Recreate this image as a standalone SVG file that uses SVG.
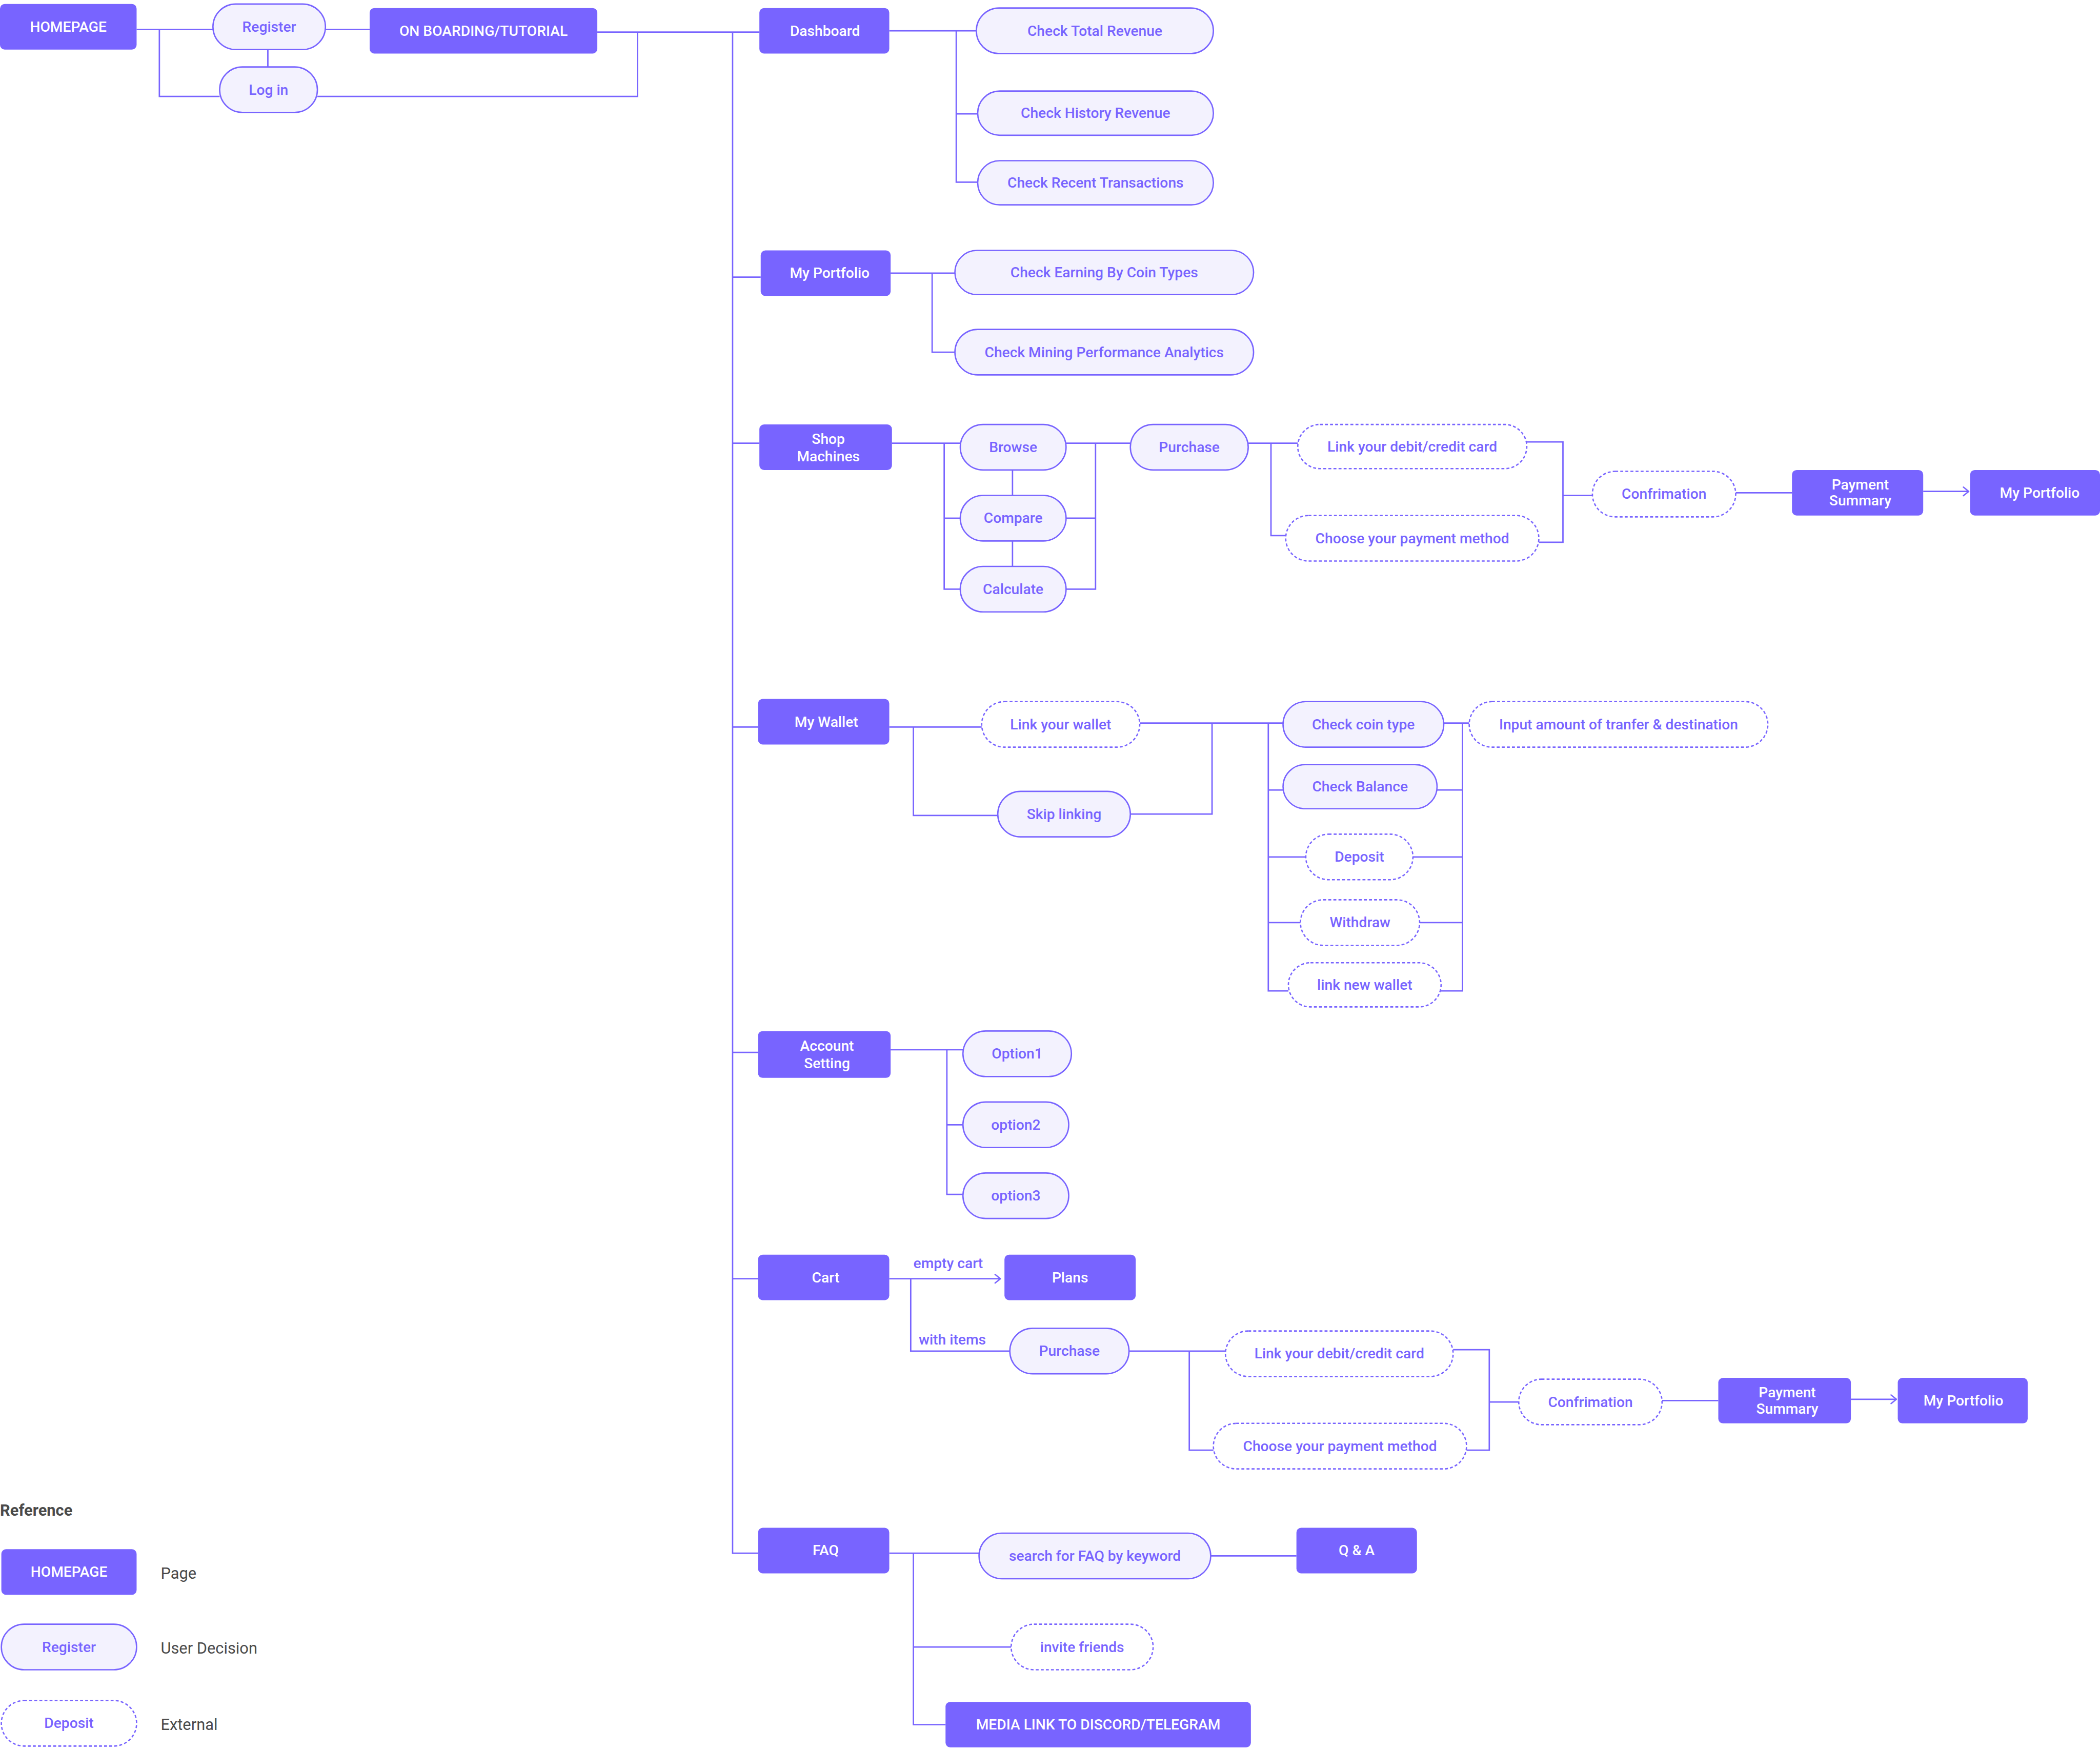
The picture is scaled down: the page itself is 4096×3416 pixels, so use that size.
<svg xmlns="http://www.w3.org/2000/svg" width="4096" height="3416" viewBox="0 0 4096 3416">
<style>
.n text{font-family:Roboto,"Liberation Sans",sans-serif;font-size:10.8px;font-weight:500;text-anchor:middle;dominant-baseline:central}
.pg rect{fill:#7864FF}
.pg text{fill:#FFFFFF}
.dc rect{fill:#F3F2FE;stroke:#7864FF;stroke-width:1}
.dc text,.ex text{fill:#7864FF}
.ex rect{fill:#FFFFFF;stroke:#7864FF;stroke-width:1;stroke-dasharray:2.2 1.6}
#connectors path{fill:none;stroke:#7864FF;stroke-width:1.05}
.lbl{font-family:Roboto,"Liberation Sans",sans-serif;font-size:10.8px;font-weight:500;fill:#7864FF}
.leg{font-family:Roboto,"Liberation Sans",sans-serif;font-size:11.8px;fill:#4A4A4A}
</style>
<defs>
<marker id="arr" markerUnits="userSpaceOnUse" viewBox="0 0 6 8" refX="5" refY="4" markerWidth="6" markerHeight="8" orient="auto">
<path d="M1,0.8 L5,4 L1,7.2" fill="none" stroke="#7864FF" stroke-width="1" stroke-linecap="round" stroke-linejoin="round"/>
</marker>
</defs>
<rect width="4096" height="3416" fill="#FFFFFF"/>
<g transform="scale(2.612245)">
<g id="connectors">
<path d="M102,22 H159"/>
<path d="M119,22 V72 H164"/>
<path d="M200,37 V50"/>
<path d="M243,22 H276"/>
<path d="M237,72 H476 V24"/>
<path d="M446,24 H567"/>
<path d="M547,24 V1160 H566"/>
<path d="M547,207 H568"/>
<path d="M547,331 H567"/>
<path d="M547,543 H566"/>
<path d="M547,786 H566"/>
<path d="M547,955 H566"/>
<path d="M664,23 H729"/>
<path d="M714,23 V136 H730"/>
<path d="M714,85 H730"/>
<path d="M665,204 H713"/>
<path d="M696,204 V263 H713"/>
<path d="M666,331 H717"/>
<path d="M705,331 V440 H717"/>
<path d="M705,387 H717"/>
<path d="M756,351 V370"/>
<path d="M756,404 V423"/>
<path d="M796,331 H844"/>
<path d="M818,331 V440 H796"/>
<path d="M796,387 H818"/>
<path d="M932,331 H969"/>
<path d="M949,331 V400 H960"/>
<path d="M1140,330 H1167 V405 H1149"/>
<path d="M1167,370 H1189"/>
<path d="M1296,368 H1338"/>
<path d="M1436,367 H1470" marker-end="url(#arr)"/>
<path d="M664,543 H733"/>
<path d="M682,543 V609 H745"/>
<path d="M851,540 H958"/>
<path d="M844,608 H905 V540"/>
<path d="M947,540 V740 H962"/>
<path d="M947,590 H958"/>
<path d="M947,640 H975"/>
<path d="M947,689 H971"/>
<path d="M1078,540 H1097"/>
<path d="M1092,540 V740 H1076"/>
<path d="M1073,590 H1092"/>
<path d="M1055,640 H1092"/>
<path d="M1060,689 H1092"/>
<path d="M665,784 H719"/>
<path d="M707,784 V892 H719"/>
<path d="M707,840 H719"/>
<path d="M664,955 H747" marker-end="url(#arr)"/>
<path d="M680,955 V1009 H754"/>
<path d="M843,1009 H915"/>
<path d="M888,1009 V1083 H906"/>
<path d="M1085,1008 H1112 V1083 H1095"/>
<path d="M1112,1047 H1134"/>
<path d="M1241,1046 H1283"/>
<path d="M1382,1045 H1416" marker-end="url(#arr)"/>
<path d="M664,1160 H731"/>
<path d="M682,1160 V1288 H706"/>
<path d="M682,1230 H755"/>
<path d="M904,1162 H968"/>
</g>
<text class="lbl" x="682" y="947">empty cart</text>
<text class="lbl" x="686" y="1004">with items</text>

<g id="homepage" class="n pg"><rect x="0" y="3" width="102" height="34" rx="3.5"/><text x="51" y="20">HOMEPAGE</text></g>
<g id="onboarding" class="n pg"><rect x="276" y="6" width="170" height="34" rx="3.5"/><text x="361" y="23">ON BOARDING/TUTORIAL</text></g>
<g id="dashboard" class="n pg"><rect x="567" y="6" width="97" height="34" rx="3.5"/><text x="616" y="23">Dashboard</text></g>
<g id="myportfolio" class="n pg"><rect x="568" y="187" width="97" height="34" rx="3.5"/><text x="619.5" y="204">My Portfolio</text></g>
<g id="shopmachines" class="n pg"><rect x="567" y="317" width="99" height="34" rx="3.5"/><text x="618.5" y="328">Shop</text><text x="618.5" y="341">Machines</text></g>
<g id="mywallet" class="n pg"><rect x="566" y="522" width="98" height="34" rx="3.5"/><text x="617" y="539">My Wallet</text></g>
<g id="accountsetting" class="n pg"><rect x="566" y="770" width="99" height="35" rx="3.5"/><text x="617.5" y="781">Account</text><text x="617.5" y="794">Setting</text></g>
<g id="cart" class="n pg"><rect x="566" y="937" width="98" height="34" rx="3.5"/><text x="616.5" y="954">Cart</text></g>
<g id="plans" class="n pg"><rect x="750" y="937" width="98" height="34" rx="3.5"/><text x="799" y="954">Plans</text></g>
<g id="faq" class="n pg"><rect x="566" y="1141" width="98" height="34" rx="3.5"/><text x="616.5" y="1158">FAQ</text></g>
<g id="qa" class="n pg"><rect x="968" y="1141" width="90" height="34" rx="3.5"/><text x="1013" y="1158">Q &amp; A</text></g>
<g id="medialink" class="n pg"><rect x="706" y="1271" width="228" height="34" rx="3.5"/><text x="820" y="1288">MEDIA LINK TO DISCORD/TELEGRAM</text></g>
<g id="paymentsummary1" class="n pg"><rect x="1338" y="351" width="98" height="34" rx="3.5"/><text x="1389" y="362">Payment</text><text x="1389" y="374">Summary</text></g>
<g id="myportfolio2" class="n pg"><rect x="1471" y="351" width="97" height="34" rx="3.5"/><text x="1523" y="368">My Portfolio</text></g>
<g id="paymentsummary2" class="n pg"><rect x="1283" y="1029" width="99" height="34" rx="3.5"/><text x="1334.5" y="1040">Payment</text><text x="1334.5" y="1052">Summary</text></g>
<g id="myportfolio3" class="n pg"><rect x="1417" y="1029" width="97" height="34" rx="3.5"/><text x="1466" y="1046">My Portfolio</text></g>

<g id="register" class="n dc"><rect x="159" y="3" width="84" height="34" rx="17"/><text x="201" y="20">Register</text></g>
<g id="login" class="n dc"><rect x="164" y="50" width="73" height="34" rx="17"/><text x="200.5" y="67">Log in</text></g>
<g id="checktotal" class="n dc"><rect x="729" y="6" width="177" height="34" rx="17"/><text x="817.5" y="23">Check Total Revenue</text></g>
<g id="checkhistory" class="n dc"><rect x="730" y="68" width="176" height="33" rx="16.5"/><text x="818" y="84.5">Check History Revenue</text></g>
<g id="checkrecent" class="n dc"><rect x="730" y="120" width="176" height="33" rx="16.5"/><text x="818" y="136.5">Check Recent Transactions</text></g>
<g id="checkearning" class="n dc"><rect x="713" y="187" width="223" height="33" rx="16.5"/><text x="824.5" y="203.5">Check Earning By Coin Types</text></g>
<g id="checkmining" class="n dc"><rect x="713" y="246" width="223" height="34" rx="17"/><text x="824.5" y="263">Check Mining Performance Analytics</text></g>
<g id="browse" class="n dc"><rect x="717" y="317" width="79" height="34" rx="17"/><text x="756.5" y="334">Browse</text></g>
<g id="compare" class="n dc"><rect x="717" y="370" width="79" height="34" rx="17"/><text x="756.5" y="387">Compare</text></g>
<g id="calculate" class="n dc"><rect x="717" y="423" width="79" height="34" rx="17"/><text x="756.5" y="440">Calculate</text></g>
<g id="purchase1" class="n dc"><rect x="844" y="317" width="88" height="34" rx="17"/><text x="888" y="334">Purchase</text></g>
<g id="checkcoin" class="n dc"><rect x="958" y="524" width="120" height="34" rx="17"/><text x="1018" y="541">Check coin type</text></g>
<g id="checkbalance" class="n dc"><rect x="958" y="571" width="115" height="33" rx="16.5"/><text x="1015.5" y="587.5">Check Balance</text></g>
<g id="skiplinking" class="n dc"><rect x="745" y="591" width="99" height="34" rx="17"/><text x="794.5" y="608">Skip linking</text></g>
<g id="option1" class="n dc"><rect x="719" y="770" width="81" height="34" rx="17"/><text x="759.5" y="787">Option1</text></g>
<g id="option2" class="n dc"><rect x="719" y="823" width="79" height="34" rx="17"/><text x="758.5" y="840">option2</text></g>
<g id="option3" class="n dc"><rect x="719" y="876" width="79" height="34" rx="17"/><text x="758.5" y="893">option3</text></g>
<g id="purchase2" class="n dc"><rect x="754" y="992" width="89" height="34" rx="17"/><text x="798.5" y="1009">Purchase</text></g>
<g id="searchfaq" class="n dc"><rect x="731" y="1145" width="173" height="34" rx="17"/><text x="817.5" y="1162">search for FAQ by keyword</text></g>

<g id="linkcard1" class="n ex"><rect x="969" y="317" width="171" height="33" rx="16.5"/><text x="1054.5" y="333.5">Link your debit/credit card</text></g>
<g id="choosepay1" class="n ex"><rect x="960" y="385" width="189" height="34" rx="17"/><text x="1054.5" y="402">Choose your payment method</text></g>
<g id="confirmation1" class="n ex"><rect x="1189" y="352" width="107" height="34" rx="17"/><text x="1242.5" y="369">Confrimation</text></g>
<g id="linkwallet" class="n ex"><rect x="733" y="524" width="118" height="34" rx="17"/><text x="792" y="541">Link your wallet</text></g>
<g id="inputamount" class="n ex"><rect x="1097" y="524" width="223" height="34" rx="17"/><text x="1208.5" y="541">Input amount of tranfer &amp; destination</text></g>
<g id="deposit" class="n ex"><rect x="975" y="623" width="80" height="34" rx="17"/><text x="1015" y="640">Deposit</text></g>
<g id="withdraw" class="n ex"><rect x="971" y="672" width="89" height="34" rx="17"/><text x="1015.5" y="689">Withdraw</text></g>
<g id="linknewwallet" class="n ex"><rect x="962" y="719" width="114" height="33" rx="16.5"/><text x="1019" y="735.5">link new wallet</text></g>
<g id="linkcard2" class="n ex"><rect x="915" y="994" width="170" height="34" rx="17"/><text x="1000" y="1011">Link your debit/credit card</text></g>
<g id="choosepay2" class="n ex"><rect x="906" y="1063" width="189" height="34" rx="17"/><text x="1000.5" y="1080">Choose your payment method</text></g>
<g id="confirmation2" class="n ex"><rect x="1134" y="1030" width="107" height="34" rx="17"/><text x="1187.5" y="1047">Confrimation</text></g>
<g id="invitefriends" class="n ex"><rect x="755" y="1213" width="106" height="34" rx="17"/><text x="808" y="1230">invite friends</text></g>

<g id="legend">
<text x="0" y="1132" style="font-family:Roboto,'Liberation Sans',sans-serif;font-size:11.8px;font-weight:700;fill:#4A4A4A">Reference</text>
<g id="legend-page" class="n pg"><rect x="1" y="1157" width="101" height="34" rx="3.5"/><text x="51.5" y="1174">HOMEPAGE</text></g>
<g id="legend-decision" class="n dc"><rect x="1" y="1213" width="101" height="34" rx="17"/><text x="51.5" y="1230">Register</text></g>
<g id="legend-external" class="n ex"><rect x="1" y="1270" width="101" height="34" rx="17"/><text x="51.5" y="1287">Deposit</text></g>
<text class="leg" x="120" y="1179">Page</text>
<text class="leg" x="120" y="1235">User Decision</text>
<text class="leg" x="120" y="1292">External</text>
</g>
</g>
</svg>
